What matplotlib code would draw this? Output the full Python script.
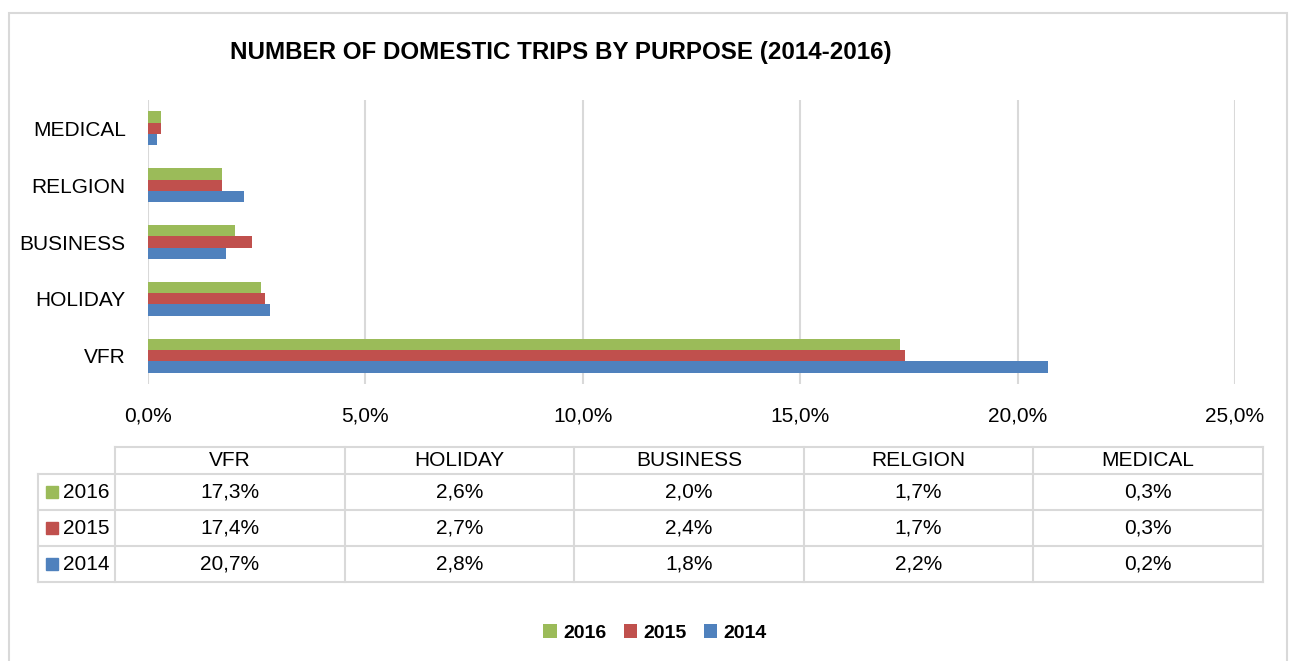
import matplotlib.pyplot as plt
from matplotlib.patches import Rectangle
from matplotlib.ticker import FuncFormatter
import numpy as np

plt.rcParams['font.family'] = ['Liberation Sans Narrow', 'Liberation Sans', 'DejaVu Sans']

# datos
categorias = ["VFR", "HOLIDAY", "BUSINESS", "RELGION", "MEDICAL"]
anios = ["2016", "2015", "2014"]
val_2016 = [17.3, 2.6, 2.0, 1.7, 0.3]
val_2015 = [17.4, 2.7, 2.4, 1.7, 0.3]
val_2014 = [20.7, 2.8, 1.8, 2.2, 0.2]
colores = ["#9BBB59", "#C0504D", "#4F81BD"]
xticks = [0, 5, 10, 15, 20, 25]

W, H = 1296, 661
fig = plt.figure(figsize=(W / 100, H / 100), dpi=100)

def caja(x0, y0, x1, y1):
    # pixeles -> coordenadas de figura
    return [x0 / W, 1 - y1 / H, (x1 - x0) / W, (y1 - y0) / H]

# marco del grafico
fig.patches.append(Rectangle((9 / W, -0.01), (1287 - 9) / W, 1 - 13 / H + 0.01,
                             transform=fig.transFigure, fill=False,
                             edgecolor="#D9D9D9", lw=1.5))

ax = fig.add_axes(caja(148, 100, 1235, 384))
y = np.arange(len(categorias))
alto = 0.2
series = [val_2016, val_2015, val_2014]
for i, (serie, anio) in enumerate(zip(series, anios)):
    ax.barh(y + (1 - i) * alto, serie, height=alto, color=colores[i], label=anio)

ax.set_xlim(0, 25)
ax.set_ylim(-0.5, 4.5)
ax.set_xticks(xticks)
ax.xaxis.set_major_formatter(FuncFormatter(lambda v, p: f"{v:.1f}%".replace(".", ",")))
ax.set_yticks(y)
ax.set_yticklabels(categorias)
ax.tick_params(length=0, labelsize=15)
ax.tick_params(axis="x", pad=16)
ax.tick_params(axis="y", pad=16)
ax.grid(axis="x", color="#D9D9D9", lw=1.5)
ax.set_axisbelow(True)
for s in ax.spines.values():
    s.set_visible(False)

fig.text(561 / W, 1 - 52 / H, "NUMBER OF DOMESTIC TRIPS BY PURPOSE (2014-2016)",
         ha="center", va="center", fontsize=17.4, fontweight="bold")

# tabla de datos
tab = fig.add_axes(caja(38, 447, 1263, 582))
tab.set_xlim(38, 1263)
tab.set_ylim(582, 447)
tab.axis("off")
bordes_x = [38, 115, 345, 574, 804, 1033, 1263]
bordes_y = [447, 474, 510, 546, 582]
gris = "#D9D9D9"
for yy in bordes_y:
    x_ini = 38 if yy != 447 else 115
    tab.plot([x_ini, 1263], [yy, yy], color=gris, lw=1.5, clip_on=False)
for xx in bordes_x:
    y_ini = 447 if xx != 38 else 474
    tab.plot([xx, xx], [y_ini, 582], color=gris, lw=1.5, clip_on=False)

for j, cat in enumerate(categorias):
    xc = (bordes_x[j + 1] + bordes_x[j + 2]) / 2
    tab.text(xc, (447 + 474) / 2, cat, ha="center", va="center", fontsize=15)
    for i, serie in enumerate(series):
        yc = (bordes_y[i + 1] + bordes_y[i + 2]) / 2
        tab.text(xc, yc, f"{serie[j]:.1f}%".replace(".", ","),
                 ha="center", va="center", fontsize=15)
for i, anio in enumerate(anios):
    yc = (bordes_y[i + 1] + bordes_y[i + 2]) / 2
    tab.add_patch(Rectangle((46, yc - 6), 12, 12, color=colores[i]))
    tab.text(63, yc, anio, ha="left", va="center", fontsize=15)

# leyenda
fig.legend(loc="center", bbox_to_anchor=(655 / W, 1 - 633 / H), ncol=3,
           frameon=False, prop={"weight": "bold", "size": 14},
           handlelength=0.7, handleheight=0.7, handletextpad=0.3, columnspacing=0.9)

fig.savefig("out.png", dpi=100)
